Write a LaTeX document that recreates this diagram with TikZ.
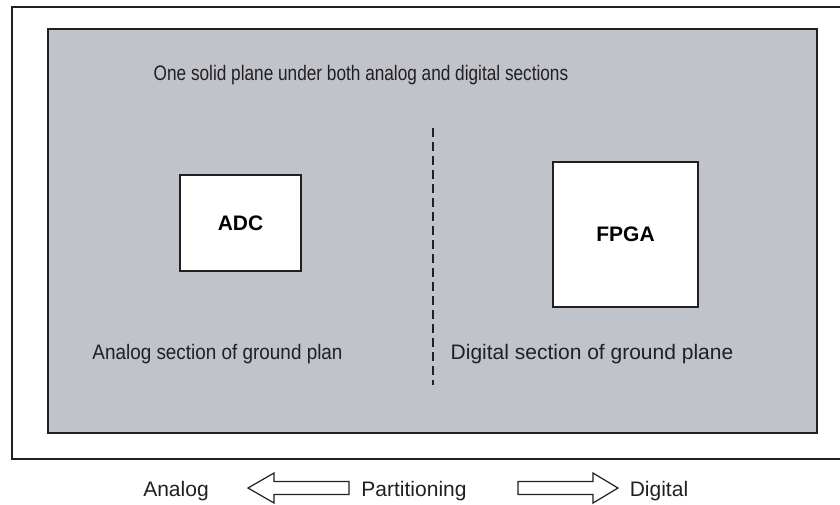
\documentclass[tikz,border=0pt]{standalone}
\usepackage{fontspec}
\setmainfont{Liberation Sans}
\usetikzlibrary{shapes,arrows}
\definecolor{planegray}{RGB}{192,195,202}
\definecolor{ink}{RGB}{35,31,32}
\tikzset{
	txt/.style={text=ink, inner sep=0pt, font=\fontsize{10.5}{12.6}\selectfont},
	chip/.style={draw=ink, line width=1pt, fill=white, inner sep=0pt,
		font=\fontsize{10.5}{12.6}\selectfont\bfseries},
	blockarrow/.style={draw=ink, line width=0.6pt, fill=white, line join=miter}
}
\begin{document}
\begin{tikzpicture}[x=0.5pt,y=-0.5pt]
		\useasboundingbox (0,0) rectangle (840,504);
		\clip (0,0) rectangle (840,504);
		
		% board and ground plane
		\draw[ink, line width=1pt] (846,7) -- (12,7) -- (12,459) -- (846,459);
		\draw[ink, line width=1.2pt, fill=planegray] (48,29) rectangle (817,433);
		
		\coordinate (divtop) at (433,128);
		\coordinate (divbot) at (433,385);
		\draw[ink, line width=1.4pt, dash pattern=on 4.5pt off 2.5pt] (divtop) -- (divbot);
		
		\node[txt] at (361,75) (solid) {\scalebox{0.82}[1]{One solid plane under both analog and digital sections}};
		\node[chip, minimum width=60.5pt, minimum height=48pt] at (240.5,223) (adc) {ADC};
		\node[chip, minimum width=72.5pt, minimum height=72.5pt] at (625.5,234.5) (fpga) {FPGA};
		\node[txt] at (217.5,354) (asec) {\scalebox{0.9}[1]{Analog section of ground plan}};
		\node[txt] at (592,354) (dsec) {Digital section of ground plane};
		
		% partitioning arrows
		\node[txt] at (176,491) (analog) {Analog};
		\node[txt] at (414,491) (part) {Partitioning};
		\node[txt] at (659,491) (digital) {Digital};
		\draw[blockarrow] (248,488) -- (274,473) -- (274,481.5) -- (349,481.5)
			-- (349,494.5) -- (274,494.5) -- (274,503) -- cycle;
		\draw[blockarrow] (618,488) -- (593,473) -- (593,481.5) -- (518,481.5)
			-- (518,494.5) -- (593,494.5) -- (593,503) -- cycle;
	\end{tikzpicture}
\end{document}
